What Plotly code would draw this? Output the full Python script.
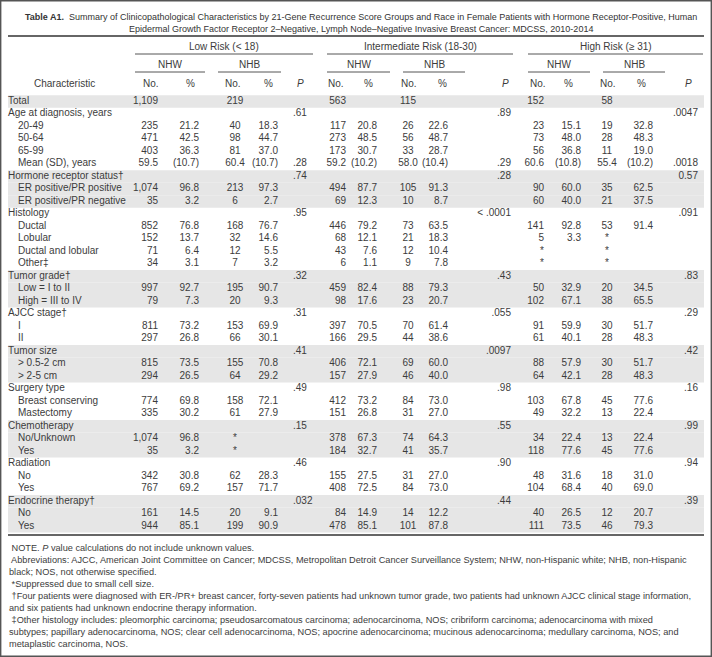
import plotly.graph_objects as go

# ---------------- DATA ----------------
row_labels = [
    "Total", "Age at diagnosis, years", "20-49", "50-64", "65-99", "Mean (SD), years",
    "Hormone receptor status†", "ER positive/PR positive", "ER positive/PR negative",
    "Histology", "Ductal", "Lobular", "Ductal and lobular", "Other‡",
    "Tumor grade†", "Low = I to II", "High = III to IV",
    "AJCC stage†", "I", "II",
    "Tumor size", "&gt; 0.5-2 cm", "&gt; 2-5 cm",
    "Surgery type", "Breast conserving", "Mastectomy",
    "Chemotherapy", "No/Unknown", "Yes",
    "Radiation", "No", "Yes",
    "Endocrine therapy†", "No", "Yes",
]
row_level = [0, 0, 1, 1, 1, 1, 0, 1, 1, 0, 1, 1, 1, 1, 0, 1, 1, 0, 1, 1,
             0, 1, 1, 0, 1, 1, 0, 1, 1, 0, 1, 1, 0, 1, 1]

low_nhw_no = ["1,109", "", "235", "471", "403", "59.5", "", "1,074", "35", "", "852", "152", "71", "34",
              "", "997", "79", "", "811", "297", "", "815", "294", "", "774", "335", "", "1,074", "35",
              "", "342", "767", "", "161", "944"]
low_nhw_pct = ["", "", "21.2", "42.5", "36.3", "(10.7)", "", "96.8", "3.2", "", "76.8", "13.7", "6.4", "3.1",
               "", "92.7", "7.3", "", "73.2", "26.8", "", "73.5", "26.5", "", "69.8", "30.2", "", "96.8", "3.2",
               "", "30.8", "69.2", "", "14.5", "85.1"]
low_nhb_no = ["219", "", "40", "98", "81", "60.4", "", "213", "6", "", "168", "32", "12", "7",
              "", "195", "20", "", "153", "66", "", "155", "64", "", "158", "61", "", "*", "*",
              "", "62", "157", "", "20", "199"]
low_nhb_pct = ["", "", "18.3", "44.7", "37.0", "(10.7)", "", "97.3", "2.7", "", "76.7", "14.6", "5.5", "3.2",
               "", "90.7", "9.3", "", "69.9", "30.1", "", "70.8", "29.2", "", "72.1", "27.9", "", "", "",
               "", "28.3", "71.7", "", "9.1", "90.9"]
low_p = ["", ".61", "", "", "", ".28", ".74", "", "", ".95", "", "", "", "",
         ".32", "", "", ".31", "", "", ".41", "", "", ".49", "", "", ".15", "", "",
         ".46", "", "", ".032", "", ""]

int_nhw_no = ["563", "", "117", "273", "173", "59.2", "", "494", "69", "", "446", "68", "43", "6",
              "", "459", "98", "", "397", "166", "", "406", "157", "", "412", "151", "", "378", "184",
              "", "155", "408", "", "84", "478"]
int_nhw_pct = ["", "", "20.8", "48.5", "30.7", "(10.2)", "", "87.7", "12.3", "", "79.2", "12.1", "7.6", "1.1",
               "", "82.4", "17.6", "", "70.5", "29.5", "", "72.1", "27.9", "", "73.2", "26.8", "", "67.3", "32.7",
               "", "27.5", "72.5", "", "14.9", "85.1"]
int_nhb_no = ["115", "", "26", "56", "33", "58.0", "", "105", "10", "", "73", "21", "12", "9",
              "", "88", "23", "", "70", "44", "", "69", "46", "", "84", "31", "", "74", "41",
              "", "31", "84", "", "14", "101"]
int_nhb_pct = ["", "", "22.6", "48.7", "28.7", "(10.4)", "", "91.3", "8.7", "", "63.5", "18.3", "10.4", "7.8",
               "", "79.3", "20.7", "", "61.4", "38.6", "", "60.0", "40.0", "", "73.0", "27.0", "", "64.3", "35.7",
               "", "27.0", "73.0", "", "12.2", "87.8"]
int_p = ["", ".89", "", "", "", ".29", ".28", "", "", "&lt; .0001", "", "", "", "",
         ".43", "", "", ".055", "", "", ".0097", "", "", ".98", "", "", ".55", "", "",
         ".90", "", "", ".44", "", ""]

high_nhw_no = ["152", "", "23", "73", "56", "60.6", "", "90", "60", "", "141", "5", "*", "*",
               "", "50", "102", "", "91", "61", "", "88", "64", "", "103", "49", "", "34", "118",
               "", "48", "104", "", "40", "111"]
high_nhw_pct = ["", "", "15.1", "48.0", "36.8", "(10.8)", "", "60.0", "40.0", "", "92.8", "3.3", "", "",
                "", "32.9", "67.1", "", "59.9", "40.1", "", "57.9", "42.1", "", "67.8", "32.2", "", "22.4", "77.6",
                "", "31.6", "68.4", "", "26.5", "73.5"]
high_nhb_no = ["58", "", "19", "28", "11", "55.4", "", "35", "21", "", "53", "*", "*", "*",
               "", "20", "38", "", "30", "28", "", "30", "28", "", "45", "13", "", "13", "45",
               "", "18", "40", "", "12", "46"]
high_nhb_pct = ["", "", "32.8", "48.3", "19.0", "(10.2)", "", "62.5", "37.5", "", "91.4", "", "", "",
                "", "34.5", "65.5", "", "51.7", "48.3", "", "51.7", "48.3", "", "77.6", "22.4", "", "22.4", "77.6",
                "", "31.0", "69.0", "", "20.7", "79.3"]
high_p = ["", ".0047", "", "", "", ".0018", "0.57", "", "", ".091", "", "", "", "",
          ".83", "", "", ".29", "", "", ".42", "", "", ".16", "", "", ".99", "", "",
          ".94", "", "", ".39", "", ""]

group_labels = ["Low Risk (&lt; 18)", "Intermediate Risk (18-30)", "High Risk (≥ 31)"]
race_labels = ["NHW", "NHB"]
col_headers = ["No.", "%", "No.", "%", "<i>P</i>"]

title_lines = [
    "<b>Table A1.</b>  Summary of Clinicopathological Characteristics by 21-Gene Recurrence Score Groups and Race in Female Patients with Hormone Receptor-Positive, Human",
    "Epidermal Growth Factor Receptor 2–Negative, Lymph Node–Negative Invasive Breast Cancer: MDCSS, 2010-2014",
]
footnotes = [
    " NOTE. <i>P</i> value calculations do not include unknown values.",
    " Abbreviations: AJCC, American Joint Committee on Cancer; MDCSS, Metropolitan Detroit Cancer Surveillance System; NHW, non-Hispanic white; NHB, non-Hispanic",
    "black; NOS, not otherwise specified.",
    " *Suppressed due to small cell size.",
    " †Four patients were diagnosed with ER-/PR+ breast cancer, forty-seven patients had unknown tumor grade, two patients had unknown AJCC clinical stage information,",
    "and six patients had unknown endocrine therapy information.",
    " ‡Other histology includes: pleomorphic carcinoma; pseudosarcomatous carcinoma; adenocarcinoma, NOS; cribriform carcinoma; adenocarcinoma with mixed",
    "subtypes; papillary adenocarcinoma, NOS; clear cell adenocarcinoma, NOS; apocrine adenocarcinoma; mucinous adenocarcinoma; medullary carcinoma, NOS; and",
    "metaplastic carcinoma, NOS.",
]

# ---------------- LAYOUT / STYLE ----------------
W, H = 712, 657
ROW0_PX = 101.5      # pixel centre of first body row
ROW_PX = 12.49       # pixel height of one body row
Y_TOP = 1 - ROW0_PX / ROW_PX
Y_BOT = Y_TOP + H / ROW_PX


def py(px):
    """pixel (from top) -> y axis units (rows)"""
    return Y_TOP + px / ROW_PX


FONT = "Liberation Sans, Arial, sans-serif"
TXT = "#3c3c3c"
SIZE = 10
SHADE = "#e6e6e6"
LINE = "#555555"
LEFT, RIGHT = 8, 704

n = len(row_labels)
rows = list(range(1, n + 1))

fig = go.Figure()

# shaded group bands
group_id = []
g = -1
for i, lv in enumerate(row_level):
    if lv == 0:
        g += 1
    group_id.append(g)
shapes = []
for i, r in enumerate(rows):
    if group_id[i] % 2 == 0:
        shapes.append(dict(type="rect", xref="x", yref="y", x0=LEFT, x1=RIGHT, y0=r - 0.5, y1=r + 0.5,
                           fillcolor=SHADE, line=dict(width=0), layer="below"))

# characteristic labels
for lv, xoff in ((0, LEFT), (1, LEFT + 10)):
    idx = [i for i in range(n) if row_level[i] == lv]
    fig.add_trace(go.Scatter(
        x=[xoff] * len(idx), y=[rows[i] for i in idx], text=[row_labels[i] for i in idx],
        mode="text", textposition="middle right",
        textfont=dict(family=FONT, size=SIZE, color=TXT), hoverinfo="skip", showlegend=False))

columns = [
    (low_nhw_no, 158, "middle left"), (low_nhw_pct, 199, "middle left"),
    (low_nhb_no, 235, "middle center"), (low_nhb_pct, 278, "middle left"), (low_p, 293, "middle right"),
    (int_nhw_no, 346, "middle left"), (int_nhw_pct, 377, "middle left"),
    (int_nhb_no, 408, "middle center"), (int_nhb_pct, 448, "middle left"), (int_p, 511, "middle left"),
    (high_nhw_no, 544, "middle left"), (high_nhw_pct, 581, "middle left"),
    (high_nhb_no, 607, "middle center"), (high_nhb_pct, 653, "middle left"), (high_p, 698, "middle left"),
]
for vals, xpos, tp in columns:
    fig.add_trace(go.Scatter(
        x=[xpos] * n, y=rows, text=vals, mode="text", textposition=tp,
        textfont=dict(family=FONT, size=SIZE, color=TXT), hoverinfo="skip", showlegend=False))

annotations = []


def add_text(x, ypx, text, anchor="center", size=SIZE, color=TXT):
    annotations.append(dict(x=x, y=py(ypx), xref="x", yref="y", text=text, showarrow=False,
                            xanchor=anchor, yanchor="middle", borderpad=0,
                            font=dict(family=FONT, size=size, color=color)))


def hline(x0, x1, ypx, width=1, color=LINE):
    shapes.append(dict(type="line", xref="x", yref="y", x0=x0, x1=x1, y0=py(ypx), y1=py(ypx),
                       line=dict(color=color, width=width)))


# title
add_text(361, 17, title_lines[0], size=9, color="#333333")
add_text(361, 29, title_lines[1], size=9, color="#333333")
hline(LEFT, RIGHT, 36, width=1.6, color="#333333")

# header groups
group_spans = [(135, 313), (327, 513), (528, 703)]
race_spans = [[(135, 205), (218, 281)], [(327, 390), (403, 465)], [(528, 590), (603, 665)]]
header_x = [[151, 190, 233, 268, 300], [336, 368, 409, 442, 505], [538, 568, 608, 641, 688]]
for gi in range(3):
    a, b = group_spans[gi]
    add_text((a + b) / 2, 46, group_labels[gi])
    hline(a, b, 54)
    for ri in range(2):
        c, d = race_spans[gi][ri]
        add_text((c + d) / 2, 64, race_labels[ri])
        hline(c, d, 72)
    for ci in range(5):
        add_text(header_x[gi][ci], 83, col_headers[ci])
add_text(64, 83, "Characteristic")

# bottom rule
hline(LEFT, RIGHT, 535, width=1.6, color="#333333")

# footnotes
for k, line in enumerate(footnotes):
    add_text(LEFT, 548 + 12 * k, line, anchor="left", size=9.2)

# outer frame
shapes.append(dict(type="rect", xref="x", yref="y", x0=0.7, x1=W - 0.7, y0=py(0.7), y1=py(H - 0.7),
                   line=dict(color="#555555", width=1.4), fillcolor="rgba(0,0,0,0)"))

fig.update_layout(
    width=W, height=H, autosize=False,
    margin=dict(l=0, r=0, t=0, b=0, pad=0),
    paper_bgcolor="white", plot_bgcolor="white",
    xaxis=dict(range=[0, W], visible=False, fixedrange=True),
    yaxis=dict(range=[Y_BOT, Y_TOP], visible=False, fixedrange=True),
    shapes=shapes, annotations=annotations, showlegend=False,
)

fig.write_html(
    "out.html",
    config={"displayModeBar": False, "staticPlot": True},
    post_script="document.body.style.margin='0px'; document.body.style.overflow='hidden';",
)
